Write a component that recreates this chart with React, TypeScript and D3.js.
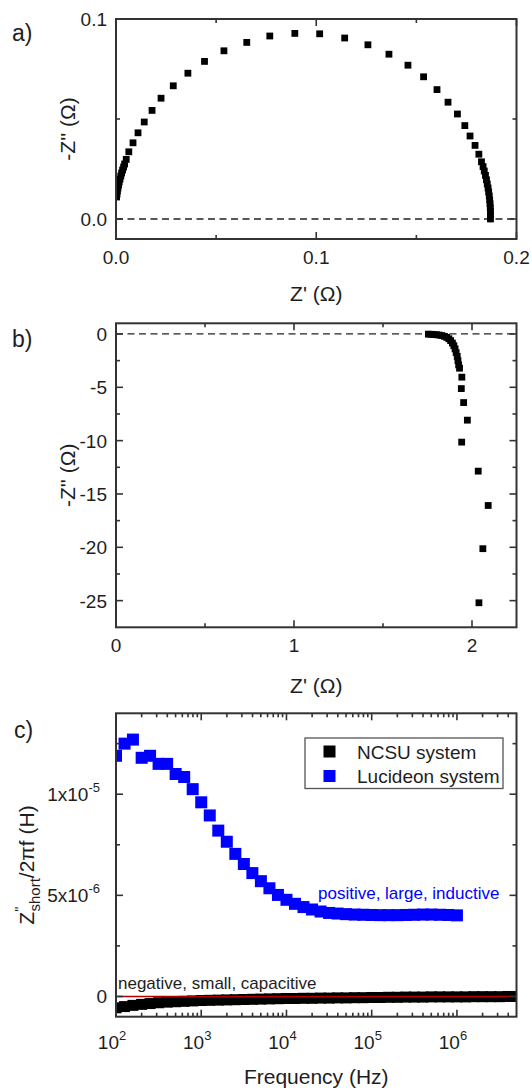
import React from "react";
import * as d3 from "d3";

// ---------- Panel a data (Nyquist, Z' vs -Z'') ----------
const aZre = [0.0003, 0.0005, 0.0007, 0.001, 0.0013, 0.0016, 0.002, 0.0024, 0.0028, 0.0033, 0.0038, 0.0043,
  0.0051, 0.0064, 0.0085, 0.011, 0.0141, 0.018, 0.0225, 0.0286, 0.0359, 0.0442, 0.0539, 0.0653, 0.0768, 0.0893,
  0.1017, 0.1142, 0.1258, 0.1363, 0.1458, 0.1536, 0.1603, 0.1658, 0.1705, 0.1742, 0.1768, 0.1793, 0.1812, 0.1825,
  0.1833, 0.1839, 0.1845, 0.185, 0.1854, 0.1858, 0.1861, 0.1864, 0.1866, 0.1868, 0.1869, 0.187, 0.187, 0.187];
const aZim = [0.011, 0.0125, 0.014, 0.0155, 0.017, 0.0185, 0.02, 0.0215, 0.023, 0.0245, 0.026, 0.0275,
  0.0298, 0.0336, 0.0381, 0.0431, 0.0485, 0.0543, 0.0604, 0.0666, 0.0729, 0.0788, 0.0841, 0.0883, 0.0915, 0.0928,
  0.0926, 0.0905, 0.0871, 0.0824, 0.0769, 0.0711, 0.0647, 0.0584, 0.0525, 0.0467, 0.0415, 0.0368, 0.0324, 0.0286,
  0.0262, 0.024, 0.0218, 0.0196, 0.0175, 0.0155, 0.0135, 0.0115, 0.0095, 0.0076, 0.0057, 0.0038, 0.0019, 0.0];
const aXTicks = [0.0, 0.1, 0.2];
const aXTickLabels = ["0.0", "0.1", "0.2"];
const aXMinor = [0.05, 0.15];
const aYTicks = [0.0, 0.1];
const aYTickLabels = ["0.0", "0.1"];
const aYMinor = [0.05];

// ---------- Panel b data ----------
const bZre = [1.755, 1.77, 1.785, 1.8, 1.815, 1.83, 1.845, 1.858, 1.87, 1.88, 1.89, 1.898, 1.905, 1.911, 1.917, 1.921, 1.925,
  1.93, 1.943, 1.94, 1.953, 1.974, 1.942, 2.035, 2.091, 2.061, 2.039];
const bZim = [-0.02, -0.03, -0.05, -0.07, -0.1, -0.15, -0.22, -0.32, -0.45, -0.62, -0.85, -1.1, -1.4, -1.75, -2.1, -2.5, -2.9,
  -3.21, -4.05, -5.12, -6.43, -8.08, -10.14, -12.86, -16.08, -20.13, -25.2];
const bXTicks = [0, 1, 2];
const bXMinor = [0.5, 1.5];
const bYTicks = [0, -5, -10, -15, -20, -25];
const bYMinor = [-2.5, -7.5, -12.5, -17.5, -22.5];

// ---------- Panel c data ----------
const cFreq = [100, 126, 158, 200, 251, 316, 398, 501, 631, 794,
  1000, 1259, 1585, 1995, 2512, 3162, 3981, 5012, 6310, 7943,
  10000, 12589, 15849, 19953, 25119, 31623, 39811, 50119, 63096, 79433,
  100000, 125893, 158489, 199526, 251189, 316228, 398107, 501187, 630957, 794328,
  1000000, 1258925, 1584893, 1995262, 2511886, 3162278, 3981072, 5011872];
const lucideon = [1.19e-5, 1.25e-5, 1.27e-5, 1.18e-5, 1.19e-5, 1.15e-5, 1.15e-5, 1.1e-5, 1.085e-5, 1.025e-5,
  0.96e-5, 0.895e-5, 0.82e-5, 0.765e-5, 0.705e-5, 0.655e-5, 0.61e-5, 0.57e-5, 0.535e-5, 0.502e-5,
  0.478e-5, 0.458e-5, 0.442e-5, 0.43e-5, 0.42e-5, 0.413e-5, 0.41e-5, 0.407e-5, 0.405e-5, 0.404e-5,
  0.403e-5, 0.402e-5, 0.402e-5, 0.402e-5, 0.403e-5, 0.404e-5, 0.405e-5, 0.405e-5, 0.404e-5, 0.403e-5,
  0.401e-5];
const ncsu = [-0.56e-6, -0.5e-6, -0.44e-6, -0.39e-6, -0.35e-6, -0.31e-6, -0.28e-6, -0.26e-6, -0.24e-6, -0.22e-6,
  -0.2e-6, -0.19e-6, -0.18e-6, -0.17e-6, -0.16e-6, -0.15e-6, -0.14e-6, -0.13e-6, -0.12e-6, -0.11e-6,
  -0.1e-6, -0.1e-6, -0.09e-6, -0.09e-6, -0.08e-6, -0.08e-6, -0.07e-6, -0.07e-6, -0.06e-6, -0.06e-6,
  -0.05e-6, -0.05e-6, -0.04e-6, -0.04e-6, -0.03e-6, -0.03e-6, -0.03e-6, -0.02e-6, -0.02e-6, -0.02e-6,
  -0.02e-6, -0.02e-6, -0.01e-6, -0.01e-6, -0.01e-6, -0.01e-6, 0.0, 0.0];
const cXDecades = [2, 3, 4, 5, 6];
const cYTicks = [0, 5e-6, 1e-5];
const cYTickMant = ["0", "5x10", "1x10"];
const cYTickExp = ["", "-6", "-5"];
const cYMinor = [2.5e-6, 7.5e-6, 1.25e-5];
const legendNames = ["NCSU system", "Lucideon system"];
const legendColors = ["#000000", "#0000ff"];

const FONT = "Arial, 'Liberation Sans', Helvetica, sans-serif";
const TXT = "#1e1e1e";
const AX = "#333333";
const L = 116;
const R = 516.5;

type FrameProps = {
  x: (v: number) => number; y: (v: number) => number;
  xMaj: number[]; xMin: number[]; yMaj: number[]; yMin: number[];
  T: number; B: number;
};

function Frame({ x, y, xMaj, xMin, yMaj, yMin, T, B }: FrameProps) {
  const segs: number[][] = [];
  const M = 7, m = 4;
  xMaj.forEach(v => { const p = x(v); segs.push([p, B, p, B - M], [p, T, p, T + M]); });
  xMin.forEach(v => { const p = x(v); segs.push([p, B, p, B - m], [p, T, p, T + m]); });
  yMaj.forEach(v => { const p = y(v); segs.push([L, p, L + M, p], [R, p, R - M, p]); });
  yMin.forEach(v => { const p = y(v); segs.push([L, p, L + m, p], [R, p, R - m, p]); });
  return (
    <g>
      {segs.map((s, i) => (
        <line key={i} x1={s[0]} y1={s[1]} x2={s[2]} y2={s[3]} stroke={AX} strokeWidth={1.6} />
      ))}
      <rect x={L} y={T} width={R - L} height={B - T} fill="none" stroke={AX} strokeWidth={2} />
    </g>
  );
}

export default function App() {
  // Panel a
  const aT = 19, aB = 239;
  const ax = d3.scaleLinear().domain([0, 0.2]).range([L, R]);
  const ay = d3.scaleLinear().domain([-0.01, 0.1]).range([aB, aT]);
  // Panel b
  const bT = 323.3, bB = 627.3;
  const bx = d3.scaleLinear().domain([0, 2.25]).range([L, R]);
  const by = d3.scaleLinear().domain([-27.5, 1]).range([bB, bT]);
  // Panel c
  const cT = 713.3, cB = 1016.7;
  const cx = d3.scaleLog().domain([100, 5e6]).range([L, R]);
  const cy = d3.scaleLinear().domain([-1e-6, 1.4e-5]).range([cB, cT]);
  const cXMinor: number[] = [];
  [2, 3, 4, 5, 6].forEach(d => [2, 3, 4, 5, 6, 7, 8, 9].forEach(k => {
    const v = k * Math.pow(10, d);
    if (v < 5e6) cXMinor.push(v);
  }));
  const cXMaj = cXDecades.map(d => Math.pow(10, d));

  const sqA = 6.8, sqC1 = 11, sqC2 = 12;

  return (
    <svg width={532} height={1092} style={{ position: "absolute", left: 0, top: 0, background: "#fff" }}
      fontFamily={FONT}>
      <defs>
        <clipPath id="clipA"><rect x={L} y={aT} width={R - L} height={aB - aT} /></clipPath>
        <clipPath id="clipB"><rect x={L} y={bT} width={R - L} height={bB - bT} /></clipPath>
        <clipPath id="clipC"><rect x={L} y={cT} width={R - L} height={cB - cT} /></clipPath>
      </defs>
      <rect x={0} y={0} width={532} height={1092} fill="#fff" />

      {/* ---------- Panel a ---------- */}
      <text x={12} y={41} fontSize={23} fill={TXT}>a)</text>
      <line x1={L} x2={R} y1={ay(0)} y2={ay(0)} stroke="#222" strokeWidth={1.3} strokeDasharray="7,4.5" />
      <g clipPath="url(#clipA)">
        {aZre.map((v, i) => (
          <rect key={i} x={ax(v) - sqA / 2} y={ay(aZim[i]) - sqA / 2} width={sqA} height={sqA} fill="#000" />
        ))}
      </g>
      <Frame x={ax} y={ay} xMaj={aXTicks} xMin={aXMinor} yMaj={aYTicks} yMin={aYMinor} T={aT} B={aB} />
      {aXTicks.map((v, i) => (
        <text key={i} x={ax(v)} y={aB + 25} fontSize={19} fill={TXT} textAnchor="middle">{aXTickLabels[i]}</text>
      ))}
      {aYTicks.map((v, i) => (
        <text key={i} x={107} y={ay(v) + 7} fontSize={19} fill={TXT} textAnchor="end">{aYTickLabels[i]}</text>
      ))}
      <text x={(L + R) / 2} y={301} fontSize={21} fill={TXT} textAnchor="middle">Z' (Ω)</text>
      <text transform={`translate(75,${(aT + aB) / 2}) rotate(-90)`} fontSize={21} fill={TXT} textAnchor="middle">-Z'' (Ω)</text>

      {/* ---------- Panel b ---------- */}
      <text x={12} y={347} fontSize={23} fill={TXT}>b)</text>
      <line x1={L} x2={R} y1={by(0)} y2={by(0)} stroke="#222" strokeWidth={1.3} strokeDasharray="7,4.5" />
      <g clipPath="url(#clipB)">
        {bZre.map((v, i) => (
          <rect key={i} x={bx(v) - sqA / 2} y={by(bZim[i]) - sqA / 2} width={sqA} height={sqA} fill="#000" />
        ))}
      </g>
      <Frame x={bx} y={by} xMaj={bXTicks} xMin={bXMinor} yMaj={bYTicks} yMin={bYMinor} T={bT} B={bB} />
      {bXTicks.map((v, i) => (
        <text key={i} x={bx(v)} y={bB + 25} fontSize={19} fill={TXT} textAnchor="middle">{String(v)}</text>
      ))}
      {bYTicks.map((v, i) => (
        <text key={i} x={107} y={by(v) + 7} fontSize={19} fill={TXT} textAnchor="end">{String(v)}</text>
      ))}
      <text x={(L + R) / 2} y={693} fontSize={21} fill={TXT} textAnchor="middle">Z' (Ω)</text>
      <text transform={`translate(75,${(bT + bB) / 2}) rotate(-90)`} fontSize={21} fill={TXT} textAnchor="middle">-Z'' (Ω)</text>

      {/* ---------- Panel c ---------- */}
      <text x={14} y={738} fontSize={23} fill={TXT}>c)</text>
      <g clipPath="url(#clipC)">
        {lucideon.map((v, i) => (
          <rect key={"l" + i} x={cx(cFreq[i]) - sqC2 / 2} y={cy(v) - sqC2 / 2} width={sqC2} height={sqC2} fill="#0000ff" />
        ))}
        {ncsu.map((v, i) => (
          <rect key={"n" + i} x={cx(cFreq[i]) - sqC1 / 2} y={cy(v) - sqC1 / 2} width={sqC1} height={sqC1} fill="#000" />
        ))}
        <line x1={L} x2={R} y1={cy(0)} y2={cy(0)} stroke="#b00000" strokeWidth={1.5} />
      </g>
      <Frame x={cx} y={cy} xMaj={cXMaj} xMin={cXMinor} yMaj={cYTicks} yMin={cYMinor} T={cT} B={cB} />
      {cXDecades.map((d, i) => (
        <text key={i} x={cx(Math.pow(10, d)) - 4} y={cB + 32} fontSize={19} fill={TXT} textAnchor="middle">
          10<tspan dy={-9} fontSize={13}>{String(d)}</tspan>
        </text>
      ))}
      {cYTicks.map((v, i) => (
        <text key={i} x={cYTickExp[i] ? 100 : 107} y={cy(v) + 7} fontSize={19} fill={TXT} textAnchor="end">
          {cYTickMant[i]}
          {cYTickExp[i] ? <tspan dy={-9} fontSize={13}>{cYTickExp[i]}</tspan> : null}
        </text>
      ))}
      <text x={(L + R) / 2} y={1084} fontSize={21} fill={TXT} textAnchor="middle">Frequency (Hz)</text>
      <text transform={`translate(34,${(cT + cB) / 2}) rotate(-90)`} fontSize={21} fill={TXT} textAnchor="middle">
        Z<tspan dy={-9} fontSize={14}>''</tspan><tspan dx={-5} dy={15} fontSize={15}>short</tspan><tspan dy={-6}>/2πf (H)</tspan>
      </text>
      <text x={318} y={899} fontSize={17} fill="#0000ff">positive, large, inductive</text>
      <text x={118} y={989} fontSize={17} fill={TXT}>negative, small, capacitive</text>

      {/* legend */}
      <rect x={305} y={738} width={198} height={50.5} fill="#fff" stroke="#555" strokeWidth={1.3} />
      {legendNames.map((n, i) => (
        <g key={i}>
          <rect x={323.5} y={745.5 + i * 24.5} width={12} height={12} fill={legendColors[i]} />
          <text x={357} y={758.5 + i * 24.5} fontSize={19} fill={TXT}>{n}</text>
        </g>
      ))}
    </svg>
  );
}
